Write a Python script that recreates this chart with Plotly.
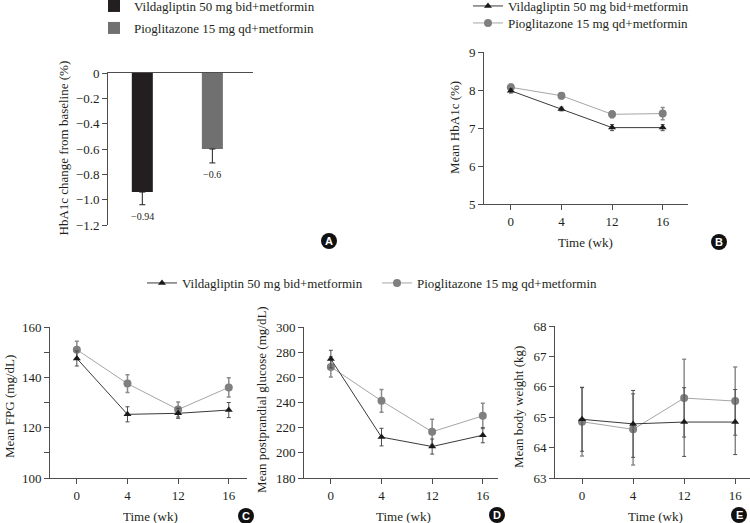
import plotly.graph_objects as go

W, H = 750, 523
SERIF = "Liberation Serif"
TXT = "#231f20"
AX = "#4d4d4d"

groups = ["Vildagliptin 50 mg bid+metformin", "Pioglitazone 15 mg qd+metformin"]
weeks = ["0", "4", "12", "16"]

# Panel A: HbA1c change from baseline (%)
a_change = [-0.94, -0.60]
a_err = [0.10, 0.11]
a_labels = ["−0.94", "−0.6"]
a_ticks = [0, -0.2, -0.4, -0.6, -0.8, -1.0, -1.2]
a_ticktext = ["0", "−0.2", "−0.4", "−0.6", "−0.8", "−1.0", "−1.2"]

# Panel B: Mean HbA1c (%)
b_vilda = [7.98, 7.50, 7.01, 7.01]
b_vilda_err = [0.06, 0.05, 0.08, 0.08]
b_pio = [8.07, 7.85, 7.36, 7.38]
b_pio_err = [0.08, 0.08, 0.09, 0.16]

# Panel C: Mean FPG (mg/dL)
c_vilda = [147.5, 125.3, 125.7, 127.0]
c_vilda_err = [3.0, 3.0, 2.0, 3.0]
c_pio = [151.0, 137.5, 127.2, 136.0]
c_pio_err = [3.3, 3.5, 3.0, 3.8]

# Panel D: Mean postprandial glucose (mg/dL)
d_vilda = [274.5, 212.5, 205.0, 214.0]
d_vilda_err = [7, 7, 6, 6]
d_pio = [268.3, 241.3, 216.7, 229.4]
d_pio_err = [8, 9, 10, 10]

# Panel E: Mean body weight (kg)
e_vilda = [64.93, 64.78, 64.84, 64.84]
e_vilda_err = [1.05, 1.10, 1.13, 1.07]
e_pio = [64.85, 64.60, 65.63, 65.53]
e_pio_err = [1.13, 1.17, 1.28, 1.12]

VCOL = "#1a1a1a"
PCOL = "#7f7f7f"
VLINE = "#3a3a3a"
PLINE = "#a6a6a6"
VERR = "#4d4d4d"
PERR = "#8c8c8c"

xi = list(range(len(weeks)))

fig = go.Figure()

# ---- Panel A bars
fig.add_trace(go.Bar(x=[0], y=[a_change[0]], width=0.3, marker=dict(color="#231f20", line=dict(width=0)),
                     error_y=dict(type="data", symmetric=False, array=[0], arrayminus=[a_err[0]],
                                  color="#231f20", thickness=1, width=3),
                     name=groups[0], xaxis="x", yaxis="y", legend="legend"))
fig.add_trace(go.Bar(x=[1], y=[a_change[1]], width=0.3, marker=dict(color="#707070", line=dict(width=0)),
                     error_y=dict(type="data", symmetric=False, array=[0], arrayminus=[a_err[1]],
                                  color="#231f20", thickness=1, width=3),
                     name=groups[1], xaxis="x", yaxis="y", legend="legend2"))


def add_pair(ax, vals_v, err_v, vals_p, err_p, legv=None, legp=None):
    n = "" if ax == 1 else str(ax)
    fig.add_trace(go.Scatter(x=xi, y=vals_p, mode="lines+markers", name=groups[1],
                             line=dict(color=PLINE, width=1),
                             marker=dict(symbol="circle", size=8, color=PCOL),
                             error_y=dict(type="data", array=err_p, color=PERR, thickness=1.5, width=2),
                             xaxis="x" + n, yaxis="y" + n,
                             showlegend=legp is not None, legend=legp or "legend"))
    fig.add_trace(go.Scatter(x=xi, y=vals_v, mode="lines+markers", name=groups[0],
                             line=dict(color=VLINE, width=1),
                             marker=dict(symbol="triangle-up", size=7, color=VCOL),
                             error_y=dict(type="data", array=err_v, color=VERR, thickness=1, width=2),
                             xaxis="x" + n, yaxis="y" + n,
                             showlegend=legv is not None, legend=legv or "legend"))


add_pair(2, b_vilda, b_vilda_err, b_pio, b_pio_err, "legend3", "legend4")
add_pair(3, c_vilda, c_vilda_err, c_pio, c_pio_err, "legend5", "legend6")
add_pair(4, d_vilda, d_vilda_err, d_pio, d_pio_err)
add_pair(5, e_vilda, e_vilda_err, e_pio, e_pio_err)


def xd(a, b):
    return [a / W, b / W]


def yd(top, bottom):
    return [1 - bottom / H, 1 - top / H]


tickfont = dict(family=SERIF, size=13, color=TXT)
base_ax = dict(showline=True, linecolor=AX, linewidth=1, showgrid=False, zeroline=False,
               ticks="outside", ticklen=5, tickcolor=AX, tickfont=tickfont)

layout = dict(width=W, height=H, margin=dict(l=0, r=0, t=0, b=0, autoexpand=False),
              paper_bgcolor="white", plot_bgcolor="white", barmode="overlay",
              font=dict(family=SERIF, size=13, color=TXT))

# Panel A axes
layout["xaxis"] = dict(base_ax, domain=xd(108, 253), range=[-0.49, 1.58], side="top",
                       showticklabels=False, ticks="", anchor="y")
layout["yaxis"] = dict(base_ax, domain=yd(73, 225), range=[-1.2, 0], tickvals=a_ticks,
                       ticktext=a_ticktext, anchor="x")

# Panel B
layout["xaxis2"] = dict(base_ax, domain=xd(484, 688), range=[-0.53, 3.5], tickvals=xi, ticktext=weeks, anchor="y2")
layout["yaxis2"] = dict(base_ax, domain=yd(52, 204), range=[5, 9], dtick=1, anchor="x2")
# Panel C
layout["xaxis3"] = dict(base_ax, domain=xd(50, 247), range=[-0.53, 3.36], tickvals=xi, ticktext=weeks, anchor="y3")
layout["yaxis3"] = dict(base_ax, domain=yd(327, 478), range=[100, 160], dtick=20, anchor="x3",
                        minor=dict(ticks="outside", dtick=10, ticklen=5, tickcolor=AX))
# Panel D
layout["xaxis4"] = dict(base_ax, domain=xd(304, 498), range=[-0.53, 3.3], tickvals=xi, ticktext=weeks, anchor="y4")
layout["yaxis4"] = dict(base_ax, domain=yd(327, 478), range=[180, 300], dtick=20, anchor="x4")
# Panel E
layout["xaxis5"] = dict(base_ax, domain=xd(555, 750), range=[-0.53, 3.29], tickvals=xi, ticktext=weeks, anchor="y5")
layout["yaxis5"] = dict(base_ax, domain=yd(326, 478), range=[63, 68], dtick=1, anchor="x5")


def leg(xpx, ypx):
    return dict(x=xpx / W, y=1 - ypx / H, xanchor="left", yanchor="middle", xref="paper", yref="paper",
                bgcolor="rgba(0,0,0,0)", borderwidth=0, font=dict(family=SERIF, size=13, color=TXT))


# legend marker centre minus 20 px
layout["legend"] = leg(114 - 20, 6)
layout["legend2"] = leg(114 - 20, 28)
layout["legend3"] = leg(488 - 20, 6)
layout["legend4"] = leg(488 - 20, 23)
layout["legend5"] = leg(162 - 20, 283)
layout["legend6"] = leg(397 - 20, 283)

fig.update_layout(**layout)

annotations = []
# bar value labels
for i in range(2):
    annotations.append(dict(x=i, y=a_change[i] - a_err[i] - 0.09, xref="x", yref="y", text=a_labels[i],
                            showarrow=False, font=dict(family=SERIF, size=10, color=TXT)))


def ytitle(text, xpx, ypx):
    annotations.append(dict(x=xpx / W, y=1 - ypx / H, xref="paper", yref="paper", text=text, textangle=-90,
                            showarrow=False, font=dict(family=SERIF, size=13, color=TXT),
                            xanchor="center", yanchor="middle"))


def xtitle(text, xpx, ypx):
    annotations.append(dict(x=xpx / W, y=1 - ypx / H, xref="paper", yref="paper", text=text,
                            showarrow=False, font=dict(family=SERIF, size=13, color=TXT),
                            xanchor="center", yanchor="middle"))


ytitle("HbA1c change from baseline (%)", 63.5, 148)
ytitle("Mean HbA1c (%)", 454.5, 127.5)
ytitle("Mean FPG (mg/dL)", 9, 407)
ytitle("Mean postprandial glucose (mg/dL)", 261, 400)
ytitle("Mean body weight (kg)", 518, 407)
xtitle("Time (wk)", 585, 242)
xtitle("Time (wk)", 150, 516)
xtitle("Time (wk)", 403, 516)
xtitle("Time (wk)", 655, 516)

shapes = []
for letter, cx, cy in [("A", 329, 241), ("B", 719, 242), ("C", 246, 516), ("D", 497, 515), ("E", 739, 515)]:
    r = 8
    shapes.append(dict(type="circle", xref="paper", yref="paper", x0=(cx - r) / W, x1=(cx + r) / W,
                       y0=1 - (cy + r) / H, y1=1 - (cy - r) / H, fillcolor="#111111", line=dict(width=0)))
    annotations.append(dict(x=cx / W, y=1 - cy / H, xref="paper", yref="paper", text="<b>%s</b>" % letter,
                            showarrow=False, font=dict(family="Liberation Sans", size=11, color="white"),
                            xanchor="center", yanchor="middle"))

fig.update_layout(annotations=annotations, shapes=shapes)
fig.write_html("out.html", config={"displayModeBar": False},
               post_script="document.body.style.margin='0';document.body.style.overflow='hidden';")
